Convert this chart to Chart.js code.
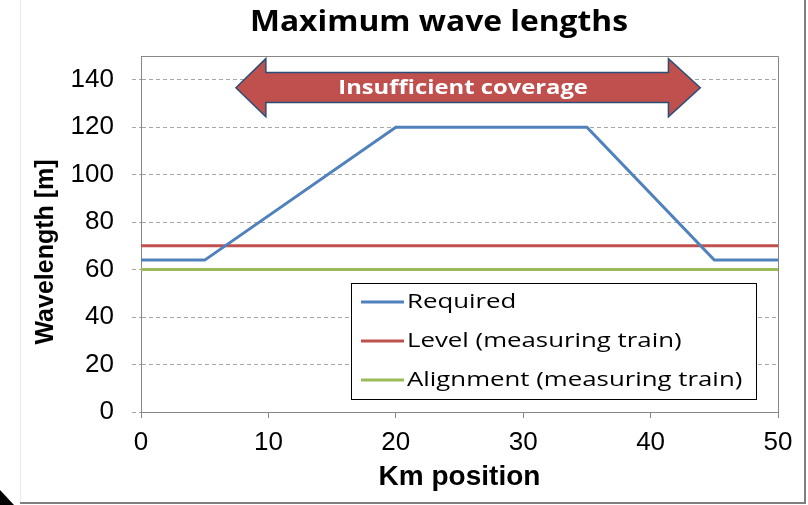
<!DOCTYPE html>
<html>
<head>
<meta charset="utf-8">
<script src="https://cdn.jsdelivr.net/npm/chart.js@4/dist/chart.umd.min.js"></script>
<style>
  html, body { margin: 0; padding: 0; background: #ffffff; }
  #wrap { position: relative; width: 808px; height: 505px; }
</style>
</head>
<body>
<div id="wrap"><canvas id="c" width="808" height="505"></canvas></div>
<script>
// ---- data ----
const chartTitle = 'Maximum wave lengths';
const xTitle = 'Km position';
const yTitle = 'Wavelength [m]';
const seriesNames = ['Required', 'Level (measuring train)', 'Alignment (measuring train)'];
const seriesColors = ['#4F81BD', '#C0504D', '#9BBB59'];
const kmRequired = [0, 5, 20, 35, 45, 50];
const required = [64, 64, 120, 120, 64, 64];
const kmLevel = [0, 50];
const level = [70, 70];
const kmAlignment = [0, 50];
const alignment = [60, 60];
const xTicks = [0, 10, 20, 30, 40, 50];
const yTicks = [0, 20, 40, 60, 80, 100, 120, 140];
const arrowLabel = 'Insufficient coverage';
// arrow outline in data units: [left tip, left head base, right head base, right tip]
const arrowX = [7.45, 9.8, 41.4, 43.9];
// [head bottom, body bottom, center, body top, head top]
const arrowY = [124.4, 130.4, 136.6, 143.0, 148.9];

const toPts = (xs, ys) => xs.map((x, i) => ({ x: x, y: ys[i] }));
const FONT_AX = "'Liberation Sans', Arial, sans-serif";
const FONT_CAL = "'Open Sans', 'Noto Sans', sans-serif";

// text drawn with a slight horizontal stretch (the reference is a widened picture)
function stretchedText(ctx, text, x, y, sx, align) {
  ctx.save();
  ctx.translate(x, y);
  ctx.scale(sx, 1);
  ctx.textAlign = align;
  ctx.textBaseline = 'middle';
  ctx.fillText(text, 0, 0);
  ctx.restore();
}

const framePlugin = {
  id: 'frame',
  beforeDraw(chart) {
    const ctx = chart.ctx;
    ctx.save();
    ctx.fillStyle = '#ffffff';
    ctx.fillRect(0, 0, chart.width, chart.height);
    ctx.strokeStyle = '#e8e8e8';
    ctx.lineWidth = 1;
    ctx.beginPath(); ctx.moveTo(20.5, 0); ctx.lineTo(20.5, 503); ctx.stroke();
    ctx.strokeStyle = '#7f7f7f';
    ctx.lineWidth = 2;
    ctx.beginPath(); ctx.moveTo(20, 503); ctx.lineTo(805, 503); ctx.lineTo(805, 0); ctx.stroke();
    ctx.fillStyle = '#000000';
    ctx.beginPath(); ctx.moveTo(0, 490); ctx.lineTo(14, 505); ctx.lineTo(0, 505); ctx.closePath(); ctx.fill();
    // chart title
    ctx.fillStyle = '#000000';
    ctx.font = "bold 28px " + FONT_CAL;
    stretchedText(ctx, chartTitle, 439, 23, 1.135, 'center');
    ctx.restore();
  },
  beforeDatasetsDraw(chart) {
    const a = chart.chartArea, ctx = chart.ctx;
    ctx.save();
    ctx.strokeStyle = '#868686';
    ctx.lineWidth = 1;
    ctx.beginPath();
    ctx.moveTo(Math.round(a.left) + 0.5, Math.round(a.top) + 0.5);
    ctx.lineTo(Math.round(a.right) + 0.5, Math.round(a.top) + 0.5);
    ctx.lineTo(Math.round(a.right) + 0.5, Math.round(a.bottom) + 0.5);
    ctx.stroke();
    ctx.restore();
  },
  afterDatasetsDraw(chart) {
    const ctx = chart.ctx, xs = chart.scales.x, ys = chart.scales.y, a = chart.chartArea;
    // arrow
    const X = arrowX.map(v => xs.getPixelForValue(v));
    const Y = arrowY.map(v => ys.getPixelForValue(v));
    ctx.save();
    ctx.beginPath();
    ctx.moveTo(X[0], Y[2]);
    ctx.lineTo(X[1], Y[4]);
    ctx.lineTo(X[1], Y[3]);
    ctx.lineTo(X[2], Y[3]);
    ctx.lineTo(X[2], Y[4]);
    ctx.lineTo(X[3], Y[2]);
    ctx.lineTo(X[2], Y[0]);
    ctx.lineTo(X[2], Y[1]);
    ctx.lineTo(X[1], Y[1]);
    ctx.lineTo(X[1], Y[0]);
    ctx.closePath();
    ctx.fillStyle = '#C0504D';
    ctx.fill();
    ctx.strokeStyle = '#2C4D75';
    ctx.lineWidth = 1.5;
    ctx.lineJoin = 'miter';
    ctx.stroke();
    ctx.fillStyle = '#ffffff';
    ctx.font = "bold 20px " + FONT_CAL;
    stretchedText(ctx, arrowLabel, (X[0] + X[3]) / 2 - 5, Y[2], 1.19, 'center');
    ctx.restore();

    // legend box inside plot
    const bx0 = a.right - 427, bx1 = a.right - 22, by0 = a.bottom - 129, by1 = a.bottom - 13;
    ctx.save();
    ctx.fillStyle = '#ffffff';
    ctx.fillRect(bx0, by0, bx1 - bx0, by1 - by0);
    ctx.strokeStyle = '#000000';
    ctx.lineWidth = 1;
    ctx.strokeRect(Math.round(bx0) + 0.5, Math.round(by0) + 0.5, Math.round(bx1 - bx0), Math.round(by1 - by0));
    ctx.font = "20px " + FONT_CAL;
    seriesNames.forEach((name, i) => {
      const cy = by0 + 19 + i * 39;
      ctx.strokeStyle = seriesColors[i];
      ctx.lineWidth = 3;
      ctx.beginPath();
      ctx.moveTo(bx0 + 10, cy);
      ctx.lineTo(bx0 + 53, cy);
      ctx.stroke();
      ctx.fillStyle = '#000000';
      stretchedText(ctx, name, bx0 + 56, cy, 1.29, 'left');
    });
    ctx.restore();
  },
  afterDraw(chart) {
    const ctx = chart.ctx, a = chart.chartArea;
    ctx.save();
    ctx.translate(46, (a.top + a.bottom) / 2 + 18);
    ctx.rotate(-Math.PI / 2);
    ctx.font = "bold 25px " + FONT_AX;
    ctx.fillStyle = '#000000';
    ctx.textAlign = 'center';
    ctx.textBaseline = 'middle';
    ctx.fillText(yTitle, 0, 0);
    ctx.restore();
  }
};

new Chart(document.getElementById('c'), {
  type: 'line',
  data: {
    datasets: [
      { label: seriesNames[0], data: toPts(kmRequired, required), borderColor: seriesColors[0], backgroundColor: seriesColors[0] },
      { label: seriesNames[1], data: toPts(kmLevel, level), borderColor: seriesColors[1], backgroundColor: seriesColors[1] },
      { label: seriesNames[2], data: toPts(kmAlignment, alignment), borderColor: seriesColors[2], backgroundColor: seriesColors[2] }
    ]
  },
  options: {
    responsive: false,
    animation: false,
    devicePixelRatio: 1,
    elements: {
      line: { borderWidth: 3, tension: 0, fill: false, borderCapStyle: 'butt' },
      point: { radius: 0, hoverRadius: 0 }
    },
    layout: { padding: { left: 20, right: 30, top: 56, bottom: 5 } },
    plugins: {
      legend: { display: false },
      tooltip: { enabled: false },
      title: { display: false }
    },
    scales: {
      x: {
        type: 'linear',
        min: 0, max: 50,
        afterBuildTicks: s => { s.ticks = xTicks.map(v => ({ value: v })); },
        afterFit: s => { s.height = 88; },
        ticks: { color: '#000000', font: { family: FONT_AX, size: 26 }, padding: 9, maxRotation: 0 },
        grid: { drawOnChartArea: false, drawTicks: true, tickLength: 6, color: '#868686' },
        border: { display: true, color: '#868686', width: 1 },
        title: { display: true, text: xTitle, color: '#000000', font: { family: FONT_AX, size: 28, weight: 'bold', lineHeight: 1.2 }, padding: { top: 0, bottom: 6 } }
      },
      y: {
        type: 'linear',
        min: 0, max: 150,
        afterBuildTicks: s => { s.ticks = yTicks.map(v => ({ value: v })); },
        afterFit: s => { s.width = 121; },
        ticks: { color: '#000000', font: { family: FONT_AX, size: 26 }, padding: 18 },
        grid: { color: '#A6A6A6', lineWidth: 1, tickLength: 9, tickBorderDash: [4, 3] },
        border: { display: true, color: '#868686', width: 1, dash: [4, 3] },
        title: { display: false }
      }
    }
  },
  plugins: [framePlugin]
});
</script>
</body>
</html>
